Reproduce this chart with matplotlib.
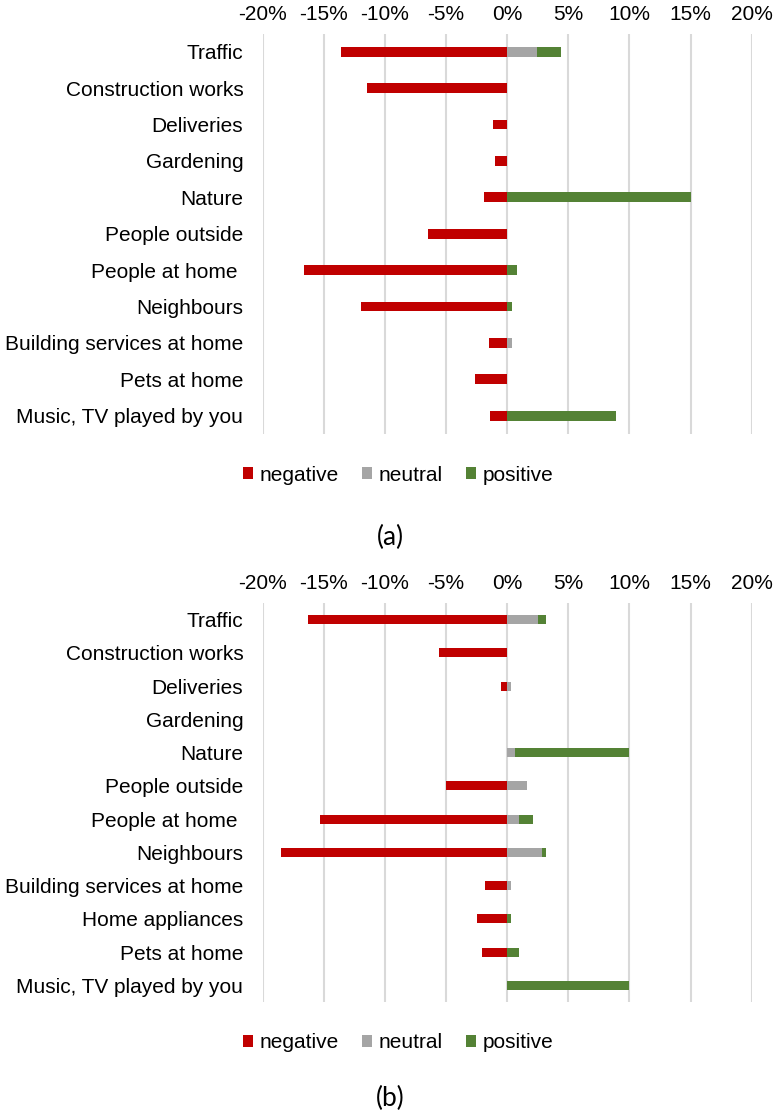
import numpy as np
import matplotlib
matplotlib.use("Agg")
from matplotlib import pyplot as plt

# Data (percent of responses)
cats_a = ["Traffic", "Construction works", "Deliveries", "Gardening", "Nature",
          "People outside", "People at home ", "Neighbours",
          "Building services at home", "Pets at home", "Music, TV played by you"]
neg_a = [13.6, 11.5, 1.2, 1.0, 1.9, 6.5, 16.6, 12.0, 1.5, 2.6, 1.4]
neu_a = [2.4, 0, 0, 0, 0, 0, 0, 0, 0.4, 0, 0]
pos_a = [2.0, 0, 0, 0, 15.0, 0, 0.8, 0.4, 0, 0, 8.9]

cats_b = ["Traffic", "Construction works", "Deliveries", "Gardening", "Nature",
          "People outside", "People at home ", "Neighbours",
          "Building services at home", "Home appliances", "Pets at home",
          "Music, TV played by you"]
neg_b = [16.3, 5.6, 0.5, 0, 0, 5.0, 15.3, 18.5, 1.8, 2.45, 2.1, 0]
neu_b = [2.5, 0, 0.35, 0, 0.6, 1.6, 0.95, 2.85, 0.35, 0, 0, 0]
pos_b = [0.65, 0, 0, 0, 9.4, 0, 1.2, 0.3, 0, 0.35, 0.95, 10.0]

ticks = [-20, -15, -10, -5, 0, 5, 10, 15, 20]
tick_labels = ["-20%", "-15%", "-10%", "-5%", "0%", "5%", "10%", "15%", "20%"]

RED = "#C00000"
GREY = "#A5A5A5"
GREEN = "#548235"

plt.rcParams['font.family'] = ['Liberation Sans', 'DejaVu Sans']

W, H = 781, 1110
fig = plt.figure(figsize=(W / 100, H / 100), dpi=100)


def panel(rect, cats, neg, neu, pos, bar_h):
	ax = fig.add_axes(rect)
	y = np.arange(len(cats))
	ax.barh(y, -np.array(neg), height=bar_h, left=0, color=RED, label="negative", zorder=3)
	ax.barh(y, neu, height=bar_h, left=0, color=GREY, label="neutral", zorder=3)
	ax.barh(y, pos, height=bar_h, left=neu, color=GREEN, label="positive", zorder=3)
	ax.set_xlim(-20, 20)
	ax.set_ylim(len(cats) - 0.5, -0.5)
	ax.set_yticks(y)
	ax.set_yticklabels(cats, fontsize=15)
	ax.xaxis.tick_top()
	ax.set_xticks(ticks)
	ax.set_xticklabels(tick_labels, fontsize=15)
	ax.tick_params(axis='x', length=0, pad=7)
	ax.tick_params(axis='y', length=0, pad=14)
	for s in ax.spines.values():
		s.set_visible(False)
	ax.grid(axis='x', color='#D9D9D9', linewidth=1.5, zorder=0)
	ax.set_axisbelow(True)
	return ax


def frac_rect(x0, x1, ytop, ybot):
	return [x0 / W, 1 - ybot / H, (x1 - x0) / W, (ybot - ytop) / H]


ax_a = panel(frac_rect(262.7, 751.7, 33.5, 434), cats_a, neg_a, neu_a, pos_a, 0.27)
ax_b = panel(frac_rect(262.7, 751.7, 603, 1002), cats_b, neg_b, neu_b, pos_b, 0.27)

for ax, ly, cy, cap in [(ax_a, 475, 537, "(a)"), (ax_b, 1043, 1098, "(b)")]:
	h, l = ax.get_legend_handles_labels()
	fig.legend(h, l, loc='center', bbox_to_anchor=(398 / W, 1 - ly / H), ncol=3,
	           frameon=False, fontsize=15, handlelength=0.5, handleheight=0.5,
	           handletextpad=0.3, columnspacing=1.1)
	fig.text(390 / W, 1 - cy / H, cap, ha='center', va='center', fontsize=19,
	         family=['Lato', 'DejaVu Sans'])

fig.savefig("out.png", dpi=100)
